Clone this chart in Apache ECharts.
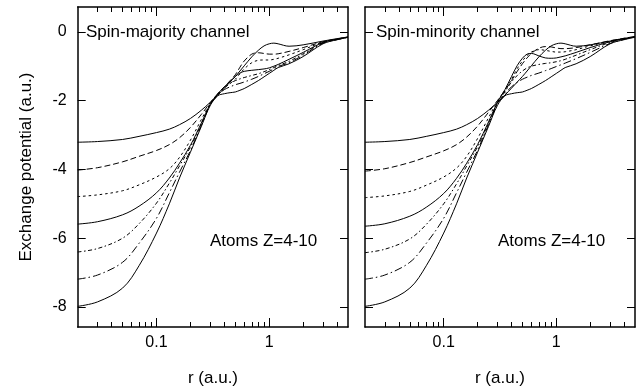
<!DOCTYPE html>
<html><head><meta charset="utf-8">
<script src="https://cdn.jsdelivr.net/npm/echarts@6/dist/echarts.min.js"></script>
<style>html,body{margin:0;padding:0;background:#fff}#c{width:644px;height:392px}</style>
</head><body><div id="c"></div>
<script>
// radius grid (a.u.)
const radius = [0.02,0.03,0.05,0.07,0.1,0.13,0.16,0.2,0.25,0.3,0.35,0.4,0.45,0.5,0.55,0.6,0.7,0.8,0.9,1.0,1.1,1.2,1.5,2,3,4,5];
const atomZ = [4,5,6,7,8,9,10];

// closed-shell atoms (same in both channels)
const z4  = [-3.21,-3.19,-3.13,-3.04,-2.93,-2.83,-2.70,-2.52,-2.28,-2.05,-1.84,-1.64,-1.46,-1.30,-1.14,-0.99,-0.73,-0.54,-0.41,-0.35,-0.33,-0.35,-0.42,-0.38,-0.27,-0.20,-0.15];
const z10 = [-7.98,-7.85,-7.45,-6.80,-5.85,-5.00,-4.25,-3.50,-2.75,-2.14,-1.86,-1.80,-1.77,-1.75,-1.70,-1.65,-1.53,-1.42,-1.31,-1.21,-1.12,-1.04,-0.93,-0.72,-0.35,-0.23,-0.16];

// spin-majority channel
const majZ5 = [-4.02,-3.95,-3.78,-3.62,-3.45,-3.28,-3.08,-2.78,-2.40,-2.06,-1.80,-1.60,-1.42,-1.25,-1.03,-0.85,-0.65,-0.61,-0.63,-0.65,-0.65,-0.64,-0.57,-0.46,-0.29,-0.21,-0.15];
const majZ6 = [-4.79,-4.74,-4.62,-4.45,-4.22,-3.98,-3.65,-3.15,-2.55,-2.08,-1.80,-1.62,-1.50,-1.38,-1.22,-1.08,-0.90,-0.83,-0.82,-0.82,-0.80,-0.77,-0.67,-0.52,-0.30,-0.21,-0.16];
const majZ7 = [-5.59,-5.52,-5.32,-5.07,-4.68,-4.25,-3.82,-3.30,-2.65,-2.10,-1.80,-1.60,-1.44,-1.30,-1.20,-1.15,-1.12,-1.10,-1.08,-1.05,-1.00,-0.95,-0.80,-0.60,-0.31,-0.22,-0.16];
const majZ8 = [-6.40,-6.30,-6.00,-5.58,-4.98,-4.40,-3.90,-3.35,-2.68,-2.12,-1.82,-1.63,-1.50,-1.42,-1.37,-1.33,-1.27,-1.22,-1.16,-1.10,-1.04,-0.98,-0.86,-0.64,-0.32,-0.22,-0.16];
const majZ9 = [-7.19,-7.07,-6.70,-6.15,-5.42,-4.68,-4.08,-3.45,-2.72,-2.12,-1.84,-1.68,-1.60,-1.54,-1.50,-1.46,-1.38,-1.30,-1.22,-1.15,-1.08,-1.01,-0.90,-0.68,-0.33,-0.23,-0.16];

// spin-minority channel
const minZ5 = [-4.05,-3.98,-3.80,-3.64,-3.46,-3.28,-3.06,-2.74,-2.34,-2.00,-1.70,-1.42,-1.15,-0.93,-0.76,-0.63,-0.48,-0.43,-0.44,-0.47,-0.49,-0.49,-0.46,-0.38,-0.26,-0.19,-0.14];
const minZ6 = [-4.82,-4.77,-4.64,-4.46,-4.22,-3.96,-3.62,-3.10,-2.50,-2.02,-1.72,-1.38,-1.07,-0.85,-0.69,-0.59,-0.52,-0.54,-0.57,-0.59,-0.59,-0.58,-0.52,-0.41,-0.27,-0.19,-0.14];
const minZ7 = [-5.65,-5.58,-5.36,-5.10,-4.70,-4.26,-3.82,-3.28,-2.62,-2.05,-1.68,-1.30,-0.98,-0.77,-0.65,-0.63,-0.70,-0.76,-0.77,-0.76,-0.73,-0.70,-0.60,-0.46,-0.29,-0.20,-0.14];
const minZ8 = [-6.42,-6.32,-6.02,-5.60,-5.00,-4.42,-3.90,-3.34,-2.66,-2.08,-1.74,-1.46,-1.27,-1.14,-1.05,-1.00,-0.95,-0.92,-0.90,-0.87,-0.84,-0.80,-0.68,-0.52,-0.31,-0.21,-0.15];
const minZ9 = [-7.19,-7.07,-6.70,-6.15,-5.42,-4.68,-4.08,-3.44,-2.70,-2.10,-1.80,-1.60,-1.47,-1.38,-1.32,-1.27,-1.20,-1.13,-1.07,-1.01,-0.96,-0.91,-0.78,-0.60,-0.34,-0.22,-0.15];

// ticks
const xMajorTicks = [0.1, 1];
const xMinorTicks = [0.03,0.04,0.05,0.06,0.07,0.08,0.09,0.2,0.3,0.4,0.5,0.6,0.7,0.8,0.9,2,3,4];
const yTicks = [0,-2,-4,-6,-8];
const panelTitles = ['Spin-majority channel','Spin-minority channel'];

const majority = [z4, majZ5, majZ6, majZ7, majZ8, majZ9, z10];
const minority = [z4, minZ5, minZ6, minZ7, minZ8, minZ9, z10];
const dashes = ['solid',[6,3],[2.5,3],'solid',[4,2.5,1.5,2.5],[8,3,1.5,3],'solid'];

const FONT = 'Liberation Sans, Arial, sans-serif';
const XMIN = 0.02, XMAX = 5, YMIN = -8.58, YMAX = 0.72;
const grids = [
  {left:77.7, top:7, width:270.3, height:320},
  {left:365, top:7, width:270, height:320}
];

const xAxes = [], yAxes = [], series = [];
grids.forEach((g, gi) => {
  ['bottom','top'].forEach(pos => {
    xAxes.push({gridIndex:gi, type:'log', logBase:10, min:XMIN, max:XMAX, position:pos,
      axisLine:{show:true, onZero:false, lineStyle:{color:'#000', width:1.5}},
      axisTick:{show:true, inside:true, length:9, customValues:xMajorTicks, lineStyle:{color:'#000', width:1}},
      axisLabel:{show:pos==='bottom', customValues:xMajorTicks, color:'#000', fontSize:16, fontFamily:FONT, margin:8,
        formatter: v => String(+(+v).toPrecision(3))},
      splitLine:{show:false}, minorTick:{show:false}});
    xAxes.push({gridIndex:gi, type:'value', min:Math.log10(XMIN), max:Math.log10(XMAX), position:pos,
      axisLine:{show:false, onZero:false},
      axisTick:{show:true, inside:true, length:5, customValues:xMinorTicks.map(Math.log10), lineStyle:{color:'#000', width:1}},
      axisLabel:{show:false}, splitLine:{show:false}});
  });
  ['left','right'].forEach(pos => {
    yAxes.push({gridIndex:gi, type:'value', min:YMIN, max:YMAX, position:pos,
      axisLine:{show:true, onZero:false, lineStyle:{color:'#000', width:1.5}},
      axisTick:{show:true, inside:true, length:8, customValues:yTicks, lineStyle:{color:'#000', width:1}},
      axisLabel:{show: gi===0 && pos==='left', customValues:yTicks, color:'#000', fontSize:16, fontFamily:FONT, margin:11},
      splitLine:{show:false}});
  });
  const sets = gi === 0 ? majority : minority;
  sets.forEach((vals, k) => {
    series.push({type:'line', name:'Z=' + atomZ[k], xAxisIndex: gi*4, yAxisIndex: gi*2,
      data: radius.map((r, i) => [r, vals[i]]),
      showSymbol:false, symbol:'none', smooth:0.35, silent:true, animation:false,
      lineStyle:{color:'#000', width:1, type:dashes[k]}});
  });
});

function txt(x, y, s, extra) {
  return Object.assign({type:'text', x:x, y:y, silent:true,
    style:Object.assign({text:s, fill:'#000', fontSize:17, fontFamily:FONT, align:'left', verticalAlign:'middle',
      textAlign:'left', textVerticalAlign:'middle'}, {})}, extra || {});
}
const graphic = [
  txt(86, 32, panelTitles[0]),
  txt(376, 32, panelTitles[1]),
  txt(210, 241, 'Atoms Z=4-10'),
  txt(498, 241, 'Atoms Z=4-10'),
  {type:'text', x:213, y:378, silent:true, style:{text:'r (a.u.)', fill:'#000', fontSize:17, fontFamily:FONT, align:'center', verticalAlign:'middle', textAlign:'center', textVerticalAlign:'middle'}},
  {type:'text', x:500, y:378, silent:true, style:{text:'r (a.u.)', fill:'#000', fontSize:17, fontFamily:FONT, align:'center', verticalAlign:'middle', textAlign:'center', textVerticalAlign:'middle'}},
  {type:'text', x:26, y:167, rotation:Math.PI/2, silent:true, style:{text:'Exchange potential (a.u.)', fill:'#000', fontSize:17, fontFamily:FONT, align:'center', verticalAlign:'middle', textAlign:'center', textVerticalAlign:'middle'}}
];

const chart = echarts.init(document.getElementById('c'), null, {renderer:'canvas'});
chart.setOption({backgroundColor:'#fff', animation:false, grid:grids, xAxis:xAxes, yAxis:yAxes, series:series, graphic:graphic});
</script></body></html>
